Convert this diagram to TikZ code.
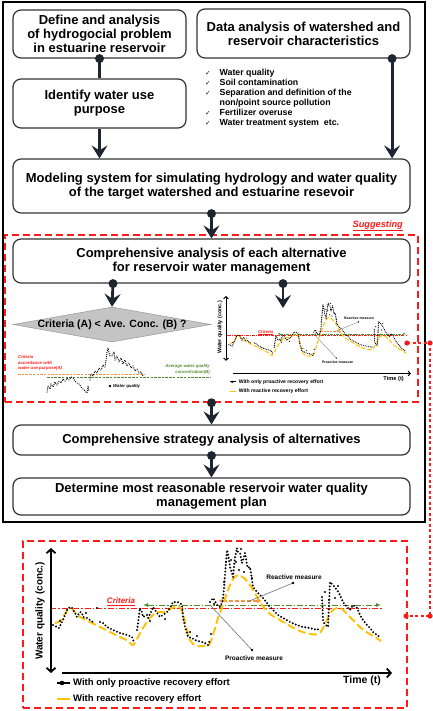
\documentclass[tikz,border=0pt]{standalone}
\usepackage{fontspec}
\setmainfont{Liberation Sans}
\newfontfamily\checkfont{DejaVu Sans}
\usetikzlibrary{arrows.meta,shapes.geometric}
\definecolor{ink}{HTML}{1C2530}
\definecolor{boxline}{HTML}{333333}
\definecolor{alertred}{HTML}{FF1A1A}
\definecolor{diamondfill}{HTML}{C4C4C4}
\definecolor{diamondline}{HTML}{8C8C8C}
\definecolor{reactyellow}{HTML}{FFC000}
\definecolor{avggreen}{HTML}{4F8B2B}
\definecolor{critorange}{HTML}{F79646}
\definecolor{leadergray}{HTML}{707070}

\newcommand{\wqtick}{{\checkfont\mdseries\fontsize{6.5}{6.5}\selectfont ✓}}

% water quality series, in the units of the large chart
\newcommand{\wqcurves}[1]{%
  \draw[critline] (50,608) -- (382,608);
  \draw[avgline] (143,605) -- (381,605);
  \draw[measurearrow] (218,601) -- (262,601);
  \draw[wqfit] plot[smooth, tension=0.5] coordinates {
    (55,623) (60,621) (65,614) (69,608) (72,608) (76,614) (82,618) (90,622)
    (100,627) (110,632) (120,637) (128,641) (133,645) (138,637) (143,628)
    (150,618) (157,612) (165,612) (172,608) (178,606) (182,611) (186,626)
    (190,640) (196,646) (203,646) (209,645) (213,635) (218,618) (223,605)
    (228,590) (233,579) (238,575) (244,578) (250,585) (256,595) (262,605)
    (270,614) (280,620) (290,626) (300,631) (310,634) (318,634) (322,630)
    (327,620) (332,611) (337,608) (342,609) (347,614) (353,620) (360,627)
    (368,633) (375,637) (381,641)};
  \draw[wqdots]
    plot coordinates {(53,625) (57,627) (59,628) (63,620) (65,615) (67,610)
      (70,607) (72,608) (75,613) (77,617) (78,615) (80,612) (82,613) (83,617)
      (87,618) (90,620) (93,622) (95,623)}
    plot coordinates {(97,608) (98,610) (99,610)}
    plot coordinates {(100,622) (103,623) (107,627) (113,630) (120,633)
      (127,635) (132,637) (133,640) (135,643)}
    plot coordinates {(137,630) (138,623) (140,608) (142,612) (143,617)
      (147,615) (148,618) (152,610) (153,607) (157,613) (160,617) (163,615)
      (167,612) (170,608) (173,602) (177,602) (180,603) (182,605) (183,617)
      (185,627) (187,633) (188,637) (192,638) (195,640) (198,641) (202,642)
      (205,643) (208,645) (210,640)}
    plot coordinates {(210,602) (213,598) (217,605) (220,607) (223,600)
      (227,550) (228,553) (230,567) (232,573) (233,577) (235,557) (237,548)
      (238,552) (240,553) (242,563) (243,560) (245,553) (247,565) (248,568)
      (250,567) (253,587) (257,592) (260,595) (263,598) (267,603) (270,607)
      (273,610) (278,615) (283,618) (290,622) (297,625) (303,627) (310,628)
      (317,630) (320,628)}
    plot coordinates {(322,597) (323,620) (324,623) (328,627) (330,582)
      (333,585) (337,590) (340,595) (343,602) (347,607) (350,610) (353,605)
      (357,608) (360,615) (363,620) (367,625) (370,628) (373,632) (377,635)
      (380,637)};
  \foreach \px/\py in {224/582, 226/562, 231/560, 236/562, 239/570, 241/549,
      244/572, 252/578, 325/592, 329/600, 335/598, 338/586, 211/634, 214/604,
      190/632, 197/636, 150/621, 165/619, 60/621, 86/613}
    \fill[black] (\px,\py) circle (1.1);
  \node[critlabel] (#1crit) at (121,602) {\underline{Criteria}};
  \draw[leader] (293,583) -- (247,602);
  \fill (293,583) circle (1.3);
  \node[measurelabel] (#1react) at (294,577) {Reactive measure};
  \draw[leader] (210,605) -- (252,650);
  \fill (252,650) circle (1.3);
  \node[measurelabel] (#1proact) at (254,658) {Proactive measure};
}

\begin{document}
\begin{tikzpicture}[
  x=1pt, y=-1pt,
  font=\bfseries,
  stage/.style={
    draw=boxline,
    line width=1.2pt,
    rounded corners=8pt,
    fill=white,
    align=center,
    inner sep=2pt,
    font=\bfseries\fontsize{13}{14}\selectfont
  },
  mainframe/.style={draw=black, line width=1.8pt},
  redframe/.style={draw=alertred, line width=1.5pt, dash pattern=on 7pt off 4pt},
  criteriadiamond/.style={diamond, draw=diamondline, fill=diamondfill, inner sep=0pt},
  flow/.style={-{Stealth[length=13pt,width=16pt,inset=5pt]}, line width=2.8pt, draw=ink},
  joint/.style={line width=2.8pt, draw=ink},
  checklist/.style={font=\bfseries\fontsize{8.8}{10}\selectfont, inner sep=0pt},
  critline/.style={draw=alertred, line width=1pt, dash pattern=on 6pt off 2pt on 1.5pt off 2pt},
  avgline/.style={draw=avggreen, line width=1pt, dash pattern=on 6pt off 2pt on 1.5pt off 2pt,
    {Latex[length=5pt,width=4pt]}-{Latex[length=5pt,width=4pt]}},
  measurearrow/.style={draw=critorange, line width=1.3pt, dash pattern=on 4pt off 2pt,
    {Latex[length=5pt,width=5pt]}-{Latex[length=5pt,width=5pt]}},
  wqfit/.style={draw=reactyellow, line width=1.9pt, dash pattern=on 8pt off 3.5pt},
  wqdots/.style={draw=black, line width=2.2pt, line cap=round, dash pattern=on 0pt off 3.3pt},
  sketchdots/.style={draw=black, line width=1.3pt, line cap=round, dash pattern=on 0pt off 2.1pt},
  leader/.style={draw=leadergray, line width=0.6pt},
  critlabel/.style={text=alertred, font=\bfseries\itshape\fontsize{8}{9}\selectfont, inner sep=1pt},
  measurelabel/.style={font=\bfseries\fontsize{6.5}{7}\selectfont, inner sep=1pt},
  legendtext/.style={font=\bfseries\fontsize{9.5}{10}\selectfont, inner sep=1pt},
  timelabel/.style={font=\bfseries\fontsize{10.5}{11}\selectfont, inner sep=1pt},
  axislabel/.style={font=\bfseries\fontsize{10}{11}\selectfont, inner sep=1pt},
  axisboth/.style={{Straight Barb[length=4pt,width=9pt]}-{Straight Barb[length=4pt,width=9pt]}, line width=1.8pt},
  axisend/.style={-{Straight Barb[length=4pt,width=9pt]}, line width=1.8pt},
  tinynote/.style={font=\bfseries\itshape\fontsize{4.3}{5.8}\selectfont, inner sep=0pt},
  linkline/.style={draw=alertred, line width=1.3pt, dash pattern=on 3pt off 2.5pt}
]
\useasboundingbox (0,0) rectangle (433,711);

% Frames
\node[mainframe, minimum width=422, minimum height=520] (frame) at (214,262) {};
\node[redframe, minimum width=413, minimum height=167] (suggestframe) at (211.5,318.5) {};
\node[redframe, minimum width=384, minimum height=167] (chartframe) at (215,624.5) {};
\node[text=alertred, font=\bfseries\itshape\fontsize{9.2}{10}\selectfont, anchor=east, inner sep=0pt]
  (suggestlabel) at (403,226) {\underline{Suggesting}};

% Problem definition and data analysis
\node[stage, minimum width=173, minimum height=48] (define) at (99.5,34)
  {Define and analysis\\of hydrogocial problem\\in estuarine reservoir};
\node[stage, minimum width=213, minimum height=49] (dataan) at (303.5,33.5)
  {Data analysis of watershed and\\reservoir characteristics};
\node[stage, minimum width=173, minimum height=49] (identify) at (99.5,103.5)
  {Identify water use\\purpose};
\node[checklist, anchor=north west] (checks) at (205,68.5) {%
  \begin{tabular}{@{}l@{\hspace{9pt}}l@{}}
  \wqtick & Water quality\\
  \wqtick & Soil contamination\\
  \wqtick & Separation and definition of the\\
          & non/point source pollution\\
  \wqtick & Fertilizer overuse\\
  \wqtick & Water treatment system\ \ etc.
  \end{tabular}};

% Modeling and alternatives
\node[stage, minimum width=397, minimum height=54] (modeling) at (211.5,186)
  {Modeling system for simulating hydrology and water quality\\of the target watershed and estuarine resevoir};
\node[stage, minimum width=397, minimum height=44] (compeach) at (211.5,261)
  {Comprehensive analysis of each alternative\\for reservoir water management};
\node[criteriadiamond, minimum width=198, minimum height=35] (criteria) at (112,324.5) {};
\node[font=\bfseries\fontsize{10.5}{11}\selectfont, inner sep=0pt] (criteriatext) at (criteria.center)
  {Criteria (A) < Ave. Conc. (B) ?};
\node[stage, minimum width=397, minimum height=30] (strategy) at (211.5,440)
  {Comprehensive strategy analysis of alternatives};
\node[stage, minimum width=397, minimum height=37] (determine) at (211.5,496.5)
  {Determine most reasonable reservoir water quality\\management plan};

% Flow arrows
\coordinate (charttop) at (283,308);
\draw[joint] (define.south) -- (identify.north);
\fill[ink] (define.south) circle (4.5);
\draw[flow] (identify.south) -- (identify.south |- modeling.north);
\draw[flow] ([xshift=-18.5pt]dataan.south east) -- ([xshift=-18.5pt]modeling.north east);
\fill[ink] ([xshift=-18.5pt]dataan.south east) circle (4.5);
\draw[flow] (modeling.south) -- (compeach.north);
\fill[ink] (modeling.south) circle (4.5);
\draw[flow] ([xshift=-98.5pt]compeach.south) -- (criteria.north);
\fill[ink] ([xshift=-98.5pt]compeach.south) circle (4.5);
\draw[flow] ([xshift=71.5pt]compeach.south) -- (charttop);
\fill[ink] ([xshift=71.5pt]compeach.south) circle (4.5);
\draw[flow] (suggestframe.south) -- (strategy.north);
\fill[ink] (suggestframe.south) circle (4.5);
\draw[flow] (strategy.south) -- (determine.north);
\fill[ink] (strategy.south) circle (4.5);

% Criteria sketch under the diamond
\node[tinynote, text=alertred, align=left, anchor=west] (critnote) at (18,363)
  {Criteria\\accordance with\\water use purpose(A)};
\draw[critorange, line width=1pt, dash pattern=on 2.5pt off 1.2pt] (18,374) -- (145,374);
\draw[avggreen, line width=1pt, dash pattern=on 2.5pt off 1.2pt] (47,377) -- (210,377);
\node[tinynote, text=avggreen, align=right, anchor=east] (avgnote) at (210,369)
  {Average water quality\\concentration(B)};
\draw[sketchdots]
  plot coordinates {(47,392) (48,386) (50,389) (51,384) (53,387) (55,382) (57,385)
    (59,381) (61,383) (63,379) (65,381) (67,378) (69,380) (71,377) (73,378) (75,381)
    (77,383) (79,384) (81,387) (83,389) (85,391) (87,393) (88,386) (89,392)}
  plot coordinates {(90,380) (91,374) (93,376) (95,371) (97,373) (99,368) (101,370)
    (103,365) (105,367) (106,360) (107,352) (108,348) (109,353) (110,356)}
  plot coordinates {(112,356) (114,352) (115,360) (117,356) (119,362) (121,358)
    (123,364) (125,360) (127,366) (129,363) (131,368) (133,366) (135,371) (137,369)
    (139,373) (141,372) (143,376)};
\fill (110,386) circle (1.4);
\node[tinynote, anchor=west] (wqnote) at (113,386) {Water quality};

% Small copy of the recovery chart
\begin{scope}[transform canvas={shift={(200.3,7.1)}}]
\begin{scope}[transform canvas={scale=0.54}]
  \wqcurves{small}
  \draw[axisboth] (47.6,535) -- (47.6,655);
  \draw[axisend] (60.6,678.5) -- (390,678.5);
  \node[timelabel] (smalltime) at (358,689) {Time (t)};
  \node[axislabel, rotate=90] (smallylabel) at (36.5,593) {Water quality (conc.)};
  \draw[line width=1.6pt] (55,694) -- (66,694);
  \fill (59,694) circle (2.3);
  \node[legendtext, anchor=west] (smalllegA) at (70,694) {With only proactive recovery effort};
  \draw[reactyellow, line width=1.8pt] (55,712) -- (66,712);
  \node[legendtext, anchor=west] (smalllegB) at (70,712) {With reactive recovery effort};
\end{scope}
\end{scope}

% Large recovery chart
\wqcurves{big}
\draw[axisboth] (51,548) -- (51,673);
\draw[axisend] (62,673) -- (392,673);
\node[timelabel] (bigtime) at (362,681) {Time (t)};
\node[axislabel, rotate=90] (bigylabel) at (40,611) {Water quality (conc.)};
\draw[line width=1.6pt] (57,683) -- (70,683);
\fill (62,683) circle (2.3);
\node[legendtext, anchor=west] (biglegA) at (72,683) {With only proactive recovery effort};
\draw[reactyellow, line width=1.8pt] (57,699) -- (70,699);
\node[legendtext, anchor=west] (biglegB) at (72,699) {With reactive recovery effort};

% Link between the two charts
\coordinate (smalllink) at (407,343);
\coordinate (biglink) at (406,616);
\draw[linkline] (smalllink) -- ++(23,0) |- (biglink);
\foreach \pt in {(407,343), (430,343), (430,616), (406,616)}
  \fill[alertred] \pt circle (2.6);

\end{tikzpicture}
\end{document}
